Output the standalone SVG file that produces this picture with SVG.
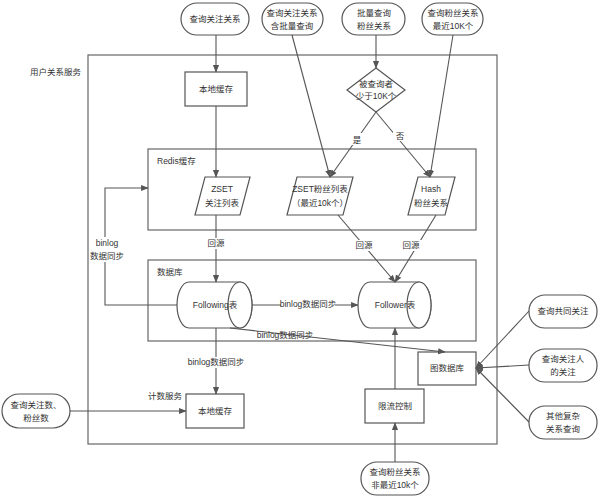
<svg xmlns="http://www.w3.org/2000/svg" width="600" height="497" viewBox="0 0 600 497">
<style>
.s{fill:#fff;stroke:#555;stroke-width:1.2}
.c{fill:none;stroke:#555;stroke-width:1.1}
.g{fill:none;stroke:#666;stroke-width:1.2}
text{font-family:"Liberation Sans","Noto Sans CJK SC",sans-serif;font-size:8.5px;fill:#333;text-anchor:middle}
.l{text-anchor:start}
</style>
<defs><marker id="a" viewBox="0 0 10 10" refX="9" refY="5" markerWidth="7" markerHeight="7" orient="auto"><path d="M0,1 L10,5 L0,9 z" fill="#555"/></marker></defs>
<rect fill="#fff" width="600" height="497"/>
<g id="outer"><rect class="g" x="88" y="55" width="409" height="389"/><text class="l" x="30" y="75">用户关系服务</text></g>
<g id="redis"><rect class="g" x="148" y="149" width="328" height="81"/><text class="l" x="157" y="164">Redis缓存</text></g>
<g id="db"><rect class="g" x="148" y="260" width="328" height="81"/><text class="l" x="157" y="275">数据库</text></g>
<g id="q1"><rect class="s" x="181" y="3" width="68" height="32" rx="16"/><text x="215" y="22">查询关注关系</text></g>
<g id="q2"><rect class="s" x="262" y="3" width="61" height="32" rx="16"/><text x="292" y="16">查询关注关系</text><text x="292" y="29">含批量查询</text></g>
<g id="q3"><rect class="s" x="342" y="3" width="63" height="32" rx="16"/><text x="374" y="16">批量查询</text><text x="374" y="29">粉丝关系</text></g>
<g id="q4"><rect class="s" x="422" y="3" width="61" height="32" rx="16"/><text x="453" y="16">查询粉丝关系</text><text x="453" y="29">最近10K个</text></g>
<g id="lc1"><rect class="s" x="185" y="72" width="62" height="34"/><text x="216" y="92">本地缓存</text></g>
<g id="dia"><polygon class="s" points="376,68 405,90 376,112 347,90"/><text x="376" y="87">被查询者</text><text x="376" y="99">少于10K个</text></g>
<g id="zset"><polygon class="s" points="205,177 250,177 240,215 195,215"/><text x="222" y="192">ZSET</text><text x="222" y="206">关注列表</text></g>
<g id="zsetf"><polygon class="s" points="297,177 353,177 343,215 287,215"/><text x="320" y="192">ZSET粉丝列表</text><text x="320" y="206">（最近10k个）</text></g>
<g id="hash"><polygon class="s" points="418,177 455,177 445,215 408,215"/><text x="431" y="192">Hash</text><text x="431" y="206">粉丝关系</text></g>
<g id="following"><path class="s" d="M189,282 H240 A12,23 0 0 1 240,328 H189 A12,23 0 0 1 189,282 Z"/><ellipse class="s" cx="240" cy="305" rx="12" ry="23"/><text x="215" y="308">Following表</text></g>
<g id="follower"><path class="s" d="M370,282 H419 A12,23 0 0 1 419,328 H370 A12,23 0 0 1 370,282 Z"/><ellipse class="s" cx="419" cy="305" rx="12" ry="23"/><text x="395" y="308">Follower表</text></g>
<g id="gdb"><rect class="s" x="418" y="352" width="58" height="33"/><text x="447" y="371">图数据库</text></g>
<g id="lc2"><rect class="s" x="186" y="394" width="58" height="34"/><text x="215" y="414">本地缓存</text><text x="165" y="399">计数服务</text></g>
<g id="qc"><rect class="s" x="2" y="394" width="68" height="34" rx="17"/><text x="36" y="408">查询关注数、</text><text x="36" y="421">粉丝数</text></g>
<g id="rl"><rect class="s" x="365" y="389" width="59" height="34"/><text x="395" y="409">限流控制</text></g>
<g id="qb"><rect class="s" x="361" y="462" width="68" height="33" rx="16"/><text x="395" y="475">查询粉丝关系</text><text x="395" y="488">非最近10k个</text></g>
<g id="r1"><rect class="s" x="529" y="295" width="68" height="33" rx="16"/><text x="563" y="314">查询共同关注</text></g>
<g id="r2"><rect class="s" x="529" y="349" width="68" height="33" rx="16"/><text x="563" y="362">查询关注人</text><text x="563" y="375">的关注</text></g>
<g id="r3"><rect class="s" x="529" y="406" width="68" height="33" rx="16"/><text x="563" y="419">其他复杂</text><text x="563" y="432">关系查询</text></g>
<g id="connectors">
<path class="c" marker-end="url(#a)" d="M216,35 V72"/>
<path class="c" marker-end="url(#a)" d="M216,106 V177"/>
<path class="c" marker-end="url(#a)" d="M292,35 L330,177"/>
<path class="c" marker-end="url(#a)" d="M376,35 V68"/>
<path class="c" marker-end="url(#a)" d="M376,112 L330,177"/>
<path class="c" marker-end="url(#a)" d="M376,112 L430,177"/>
<path class="c" marker-end="url(#a)" d="M453,35 L430,177"/>
<path class="c" marker-end="url(#a)" d="M216,215 V282"/>
<path class="c" marker-end="url(#a)" d="M338,215 L395,282"/>
<path class="c" marker-end="url(#a)" d="M436,215 L395,282"/>
<path class="c" marker-end="url(#a)" d="M177,305 H105 V188 H148"/>
<path class="c" marker-end="url(#a)" d="M252,305 H358"/>
<path class="c" marker-end="url(#a)" d="M230,328 L445,352"/>
<path class="c" marker-end="url(#a)" d="M216,328 V394"/>
<path class="c" marker-end="url(#a)" d="M70,411 H186"/>
<path class="c" marker-end="url(#a)" d="M395,389 V328"/>
<path class="c" marker-end="url(#a)" d="M395,462 V423"/>
<path class="c" marker-end="url(#a)" d="M529,311 L476,368"/>
<path class="c" marker-end="url(#a)" d="M529,365 L476,368"/>
<path class="c" marker-end="url(#a)" d="M529,422 L476,368"/>
<g>
<rect fill="#fff" x="350" y="133" width="12" height="12"/><text x="357" y="143">是</text>
<rect fill="#fff" x="393" y="129" width="12" height="12"/><text x="400" y="139">否</text>
<rect fill="#fff" x="205" y="238" width="22" height="11"/><text x="216" y="246">回源</text>
<rect fill="#fff" x="353" y="240" width="22" height="11"/><text x="364" y="248">回源</text>
<rect fill="#fff" x="400" y="240" width="22" height="11"/><text x="411" y="248">回源</text>
<rect fill="#fff" x="90" y="237" width="34" height="25"/><text x="107" y="246">binlog</text><text x="107" y="259">数据同步</text>
<rect fill="#fff" x="281" y="299" width="54" height="11"/><text x="308" y="307">binlog数据同步</text>
<text x="285" y="338">binlog数据同步</text>
<rect fill="#fff" x="188" y="357" width="56" height="11"/><text x="216" y="365">binlog数据同步</text>
</g>
</g>
</svg>
